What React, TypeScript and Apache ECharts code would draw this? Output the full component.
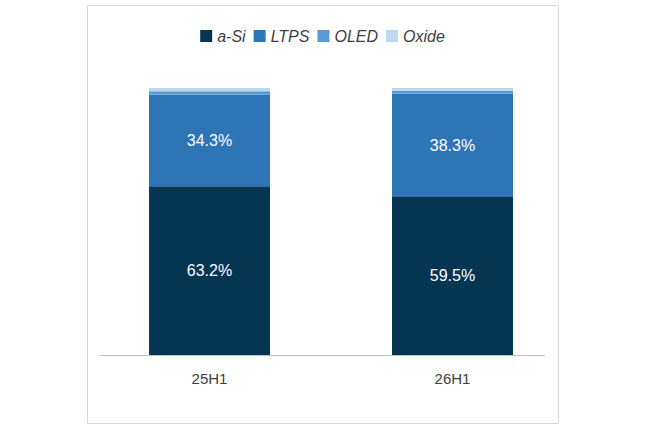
import React, { useEffect, useRef } from "react";
import * as echarts from "echarts";

const categories = ["25H1", "26H1"];
const aSi = [63.2, 59.5];
const ltps = [34.3, 38.3];
const oled = [1.3, 1.2];
const oxide = [1.2, 1.0];

export default function App() {
  const ref = useRef<HTMLDivElement>(null);
  useEffect(() => {
    const chart = echarts.init(ref.current!, null, { renderer: "svg" });
    const mk = (name: string, data: number[], color: string, label: boolean) => ({
      name, type: "bar", stack: "s", data, barWidth: 121,
      itemStyle: { color },
      label: { show: label, color: "#fff", fontSize: 16, formatter: (p: any) => p.value.toFixed(1) + "%" },
    });
    chart.setOption({
      animation: false,
      textStyle: { fontFamily: "Arial, Liberation Sans, sans-serif" },
      graphic: [
        { type: "rect", shape: { x: 87.5, y: 5.5, width: 471, height: 418 }, style: { fill: "none", stroke: "#d9d9d9", lineWidth: 1 } },
        { type: "line", shape: { x1: 100, y1: 355.5, x2: 545, y2: 355.5 }, style: { stroke: "#bfbfbf", lineWidth: 1 } },
      ],
      legend: {
        top: 23, left: "center", itemWidth: 12, itemHeight: 12, itemGap: 8, icon: "rect",
        textStyle: { fontSize: 16, fontStyle: "italic", color: "#404040" },
        data: ["a-Si", "LTPS", "OLED", "Oxide"],
      },
      grid: { left: 88, width: 486, top: 88, bottom: 74 },
      xAxis: {
        type: "category", data: categories,
        axisLine: { show: false }, axisTick: { show: false },
        axisLabel: { fontSize: 15, color: "#404040", margin: 16 },
      },
      yAxis: { type: "value", min: 0, max: 100, show: false, splitLine: { show: false } },
      series: [
        mk("a-Si", aSi, "#043553", true),
        mk("LTPS", ltps, "#2e75b6", true),
        mk("OLED", oled, "#5b9bd5", false),
        mk("Oxide", oxide, "#bdd7ee", false),
      ],
    });
    return () => chart.dispose();
  }, []);
  return <div ref={ref} style={{ position: "absolute", left: 0, top: 0, width: 645, height: 429 }} />;
}
